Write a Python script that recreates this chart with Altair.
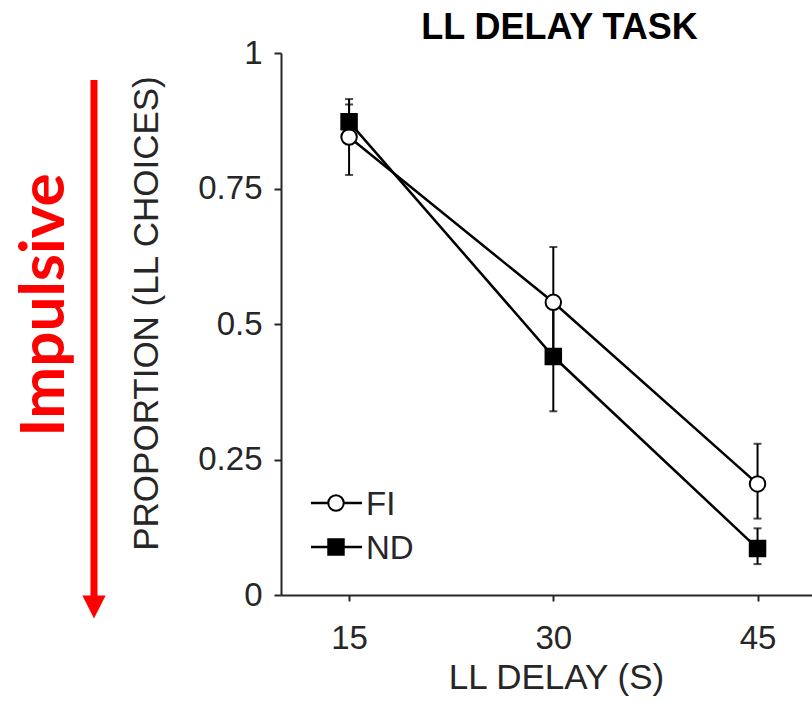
import altair as alt
import pandas as pd

# ---- data ----
delays = [15, 30, 45]
fi_mean = [0.845, 0.540, 0.205]
fi_lo = [0.775, 0.438, 0.141]
fi_hi = [0.915, 0.642, 0.279]
nd_mean = [0.873, 0.440, 0.086]
nd_lo = [0.835, 0.339, 0.057]
nd_hi = [0.905, 0.541, 0.123]
groups = ["FI", "ND"]
x_ticks = [15, 30, 45]
y_ticks = [0, 0.25, 0.5, 0.75, 1]

rows = []
for g, m, lo, hi in [("FI", fi_mean, fi_lo, fi_hi), ("ND", nd_mean, nd_lo, nd_hi)]:
    for d, a, b, c in zip(delays, m, lo, hi):
        rows.append({"group": g, "delay": d, "mean": a, "lo": b, "hi": c})
df = pd.DataFrame(rows)
legend_df = pd.DataFrame({"series": groups})
one = pd.DataFrame({"k": [0]})

AX = "#262626"
FONT = "Liberation Sans"

xs = alt.Scale(domain=[10, 49], nice=False, zero=False)
ys = alt.Scale(domain=[0, 1], nice=False, zero=False)
xaxis = alt.Axis(values=x_ticks, title="LL DELAY (S)", grid=False, tickSize=6,
                 labelPadding=47, labelBaseline="alphabetic",
                 titleX=275, titleY=93, titleBaseline="alphabetic", titleAlign="center")
yaxis = alt.Axis(values=y_ticks, format=".2~f", title="PROPORTION (LL CHOICES)", grid=False,
                 tickSize=7, labelPadding=12,
                 titleX=-124, titleY=260, titleBaseline="alphabetic", titleAlign="center", titleAngle=270)

X = alt.X("delay:Q", scale=xs, axis=xaxis)
shape_enc = alt.Shape("group:N", scale=alt.Scale(domain=groups, range=["circle", "square"]), legend=None)
fill_enc = alt.Fill("group:N", scale=alt.Scale(domain=groups, range=["white", "black"]), legend=None)

base = alt.Chart(df)
err = base.mark_rule(color="black", strokeWidth=2).encode(
    x=X, y=alt.Y("lo:Q", scale=ys, axis=yaxis), y2="hi:Q")
cap_lo = base.mark_tick(color="black", orient="horizontal", size=8, thickness=2).encode(
    x=X, y=alt.Y("lo:Q", scale=ys, axis=yaxis))
cap_hi = base.mark_tick(color="black", orient="horizontal", size=8, thickness=2).encode(
    x=X, y=alt.Y("hi:Q", scale=ys, axis=yaxis))
lines = base.mark_line(color="black", strokeWidth=2.5).encode(
    x=X, y=alt.Y("mean:Q", scale=ys, axis=yaxis), detail="group:N")
pts = base.mark_point(filled=True, stroke="black", strokeWidth=2, size=240, opacity=1).encode(
    x=X, y=alt.Y("mean:Q", scale=ys, axis=yaxis), shape=shape_enc, fill=fill_enc)
data_layer = alt.layer(err, cap_lo, cap_hi, lines, pts)

# ---- legend (line + marker + label) ----
ly = alt.Y("series:N", scale=alt.Scale(type="point", domain=groups, range=[450, 494], padding=0), axis=None)
lshape = alt.Shape("series:N", scale=alt.Scale(domain=groups, range=["circle", "square"]), legend=None)
lfill = alt.Fill("series:N", scale=alt.Scale(domain=groups, range=["white", "black"]), legend=None)
lbase = alt.Chart(legend_df)
leg_rule = lbase.mark_rule(color="black", strokeWidth=2.5).encode(
    x=alt.value(30), x2=alt.value(81), y=ly)
leg_pt = lbase.mark_point(filled=True, stroke="black", strokeWidth=2, size=240, opacity=1).encode(
    x=alt.value(55), y=ly, shape=lshape, fill=lfill)
leg_txt = lbase.mark_text(align="left", baseline="middle", dy=2, fontSize=33, font=FONT, color=AX).encode(
    x=alt.value(85), y=ly, text="series:N")
legend_layer = alt.layer(leg_rule, leg_pt, leg_txt)

# ---- red "Impulsive" annotation ----
arrow_shaft = alt.Chart(one).mark_rule(color="#FF0000", strokeWidth=7).encode(
    x=alt.value(-187), y=alt.value(27), y2=alt.value(545))
arrow_head = alt.Chart(one).mark_point(shape="M-1,-1L1,-1L0,1Z", filled=True, color="#FF0000",
                                       size=540, opacity=1).encode(
    x=alt.value(-187), y=alt.value(554))
impulsive = alt.Chart(one).mark_text(text="Impulsive", angle=270, align="center", baseline="alphabetic",
                                     font="Lato", fontWeight="bold", fontSize=62, color="#FF0000").encode(
    x=alt.value(-217), y=alt.value(252))

chart = alt.layer(data_layer, legend_layer, arrow_shaft, arrow_head, impulsive).resolve_scale(
    y="independent"
).properties(
    width=531,
    height=542,
    background="white",
    autosize=alt.AutoSizeParams(type="none"),
    padding={"left": 281, "top": 53, "right": 0, "bottom": 108},
    title=alt.TitleParams("LL DELAY TASK", anchor="middle", frame="group", baseline="alphabetic",
                          offset=13, dx=13, dy=51, font=FONT, fontSize=36, fontWeight="bold", color="black"),
).configure_view(stroke="transparent").configure_axis(
    domainColor=AX, tickColor=AX, labelColor=AX, titleColor=AX,
    labelFont=FONT, titleFont=FONT, labelFontSize=33, titleFontSize=35,
    titleFontWeight="normal", domainWidth=2, tickWidth=2,
)

chart.save("out.html", embed_options={"renderer": "svg", "actions": False})
